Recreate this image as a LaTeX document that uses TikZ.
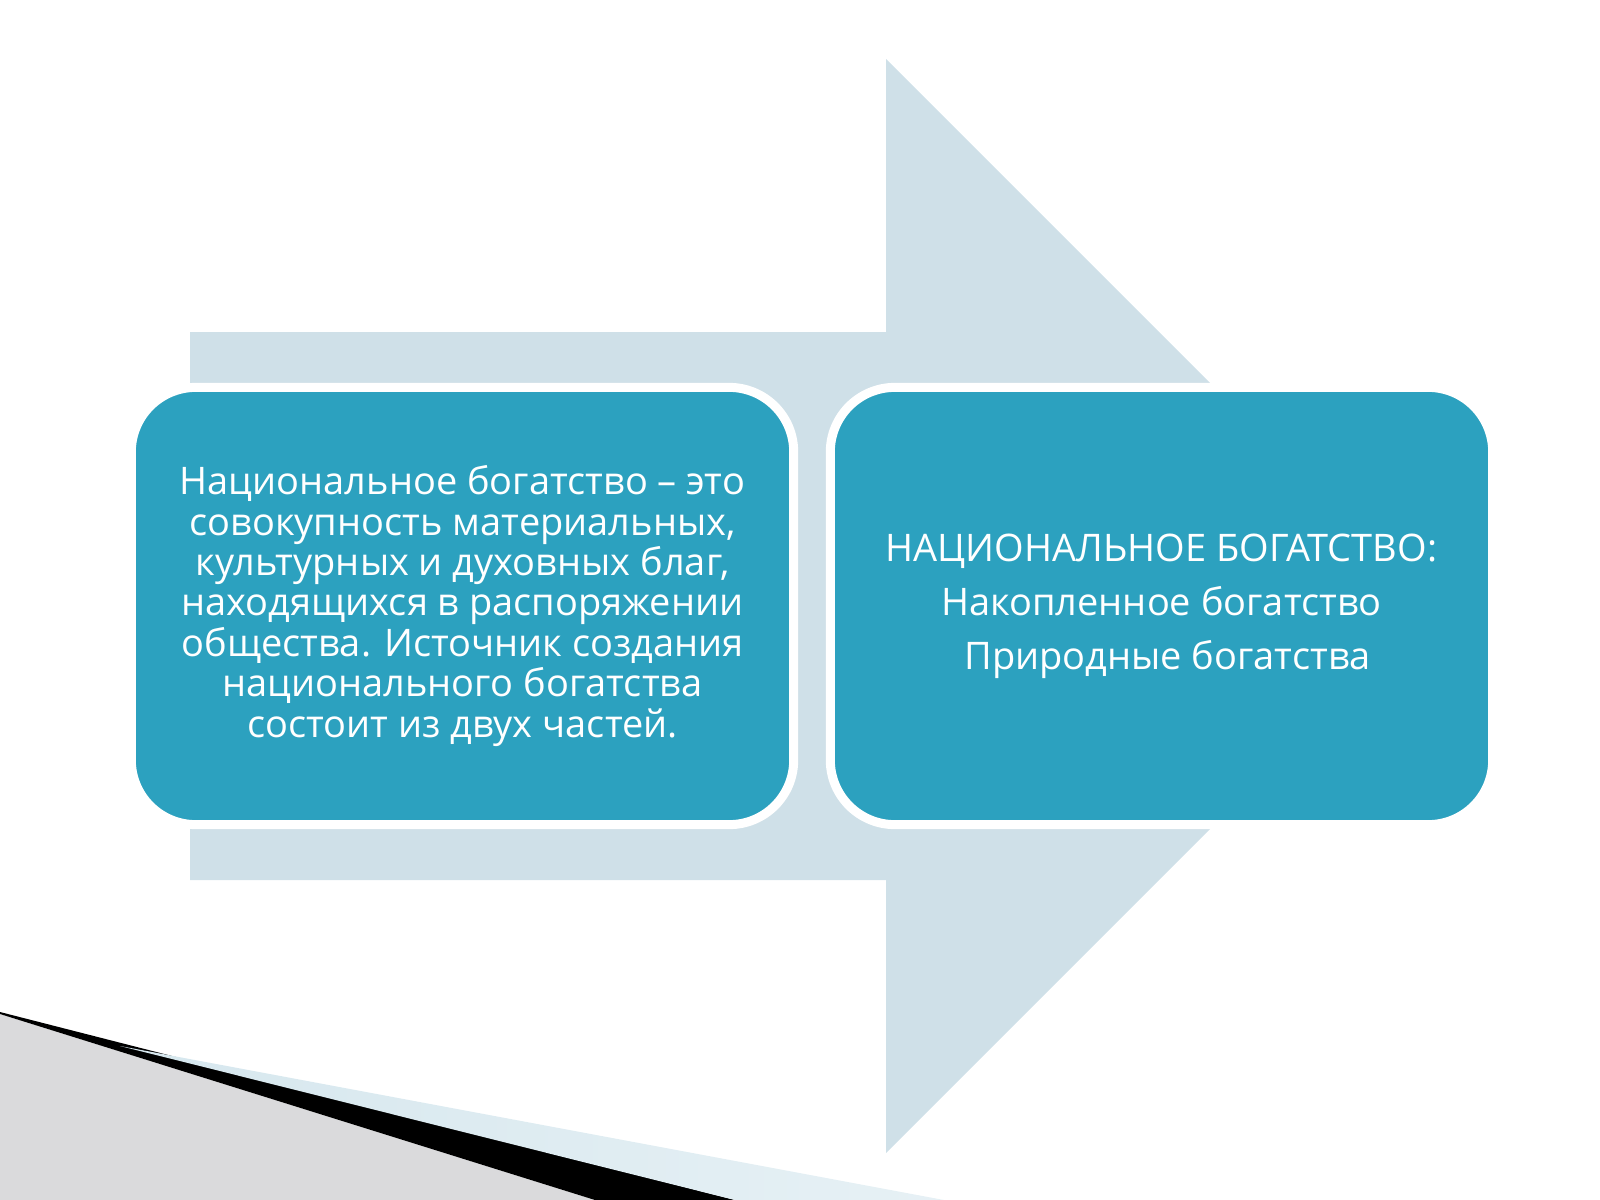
\documentclass[tikz,border=0pt]{standalone}
\usepackage{fontspec}
\setmainfont{Open Sans}
\definecolor{khung}{HTML}{2CA1BF}
\definecolor{muiten}{HTML}{CFE0E8}
\definecolor{nenxam}{HTML}{DADADC}
\definecolor{vetxanh}{HTML}{D6E7EE}
\tikzset{hop/.style={draw=white,line width=0.9mm,fill=khung,rounded corners=6.45mm,
  minimum width=6.62cm,minimum height=4.37cm,text=white,align=center}}
\begin{document}
\begin{tikzpicture}[x=0.01cm,y=-0.01cm]
\useasboundingbox (0,0) rectangle (1600,1200);
% Mũi tên nền
\fill[muiten] (190,332)--(886,332)--(886,59)--(1433,606)--(886,1153)--(886,880)--(190,880)--cycle;
% Hai ô chữ
\node[hop,font=\fontsize{10.8pt}{11.5pt}\selectfont] (dinhnghia) at (462.5,606)
{Национальное богатство – это\\совокупность материальных,\\культурных и духовных благ,\\находящихся в распоряжении\\общества. Источник создания\\национального богатства\\состоит из двух частей.};
\node[hop,font=\fontsize{10.8pt}{15.4pt}\selectfont] (thanhphan) at (1161.5,606)
{НАЦИОНАЛЬНОЕ БОГАТСТВО:\\Накопленное богатство\hspace{1.2mm}\\\hspace{1.2mm}Природные богатства};
% Góc trang trí dưới bên trái
\fill[nenxam] (0,1014)--(595,1200)--(0,1200)--cycle;
\fill[black] (0,1012)--(735,1200)--(595,1200)--(0,1014)--cycle;
\shade[left color=vetxanh,right color=vetxanh!60] (120,1046)--(944,1200)--(735,1200)--cycle;
\end{tikzpicture}
\end{document}
